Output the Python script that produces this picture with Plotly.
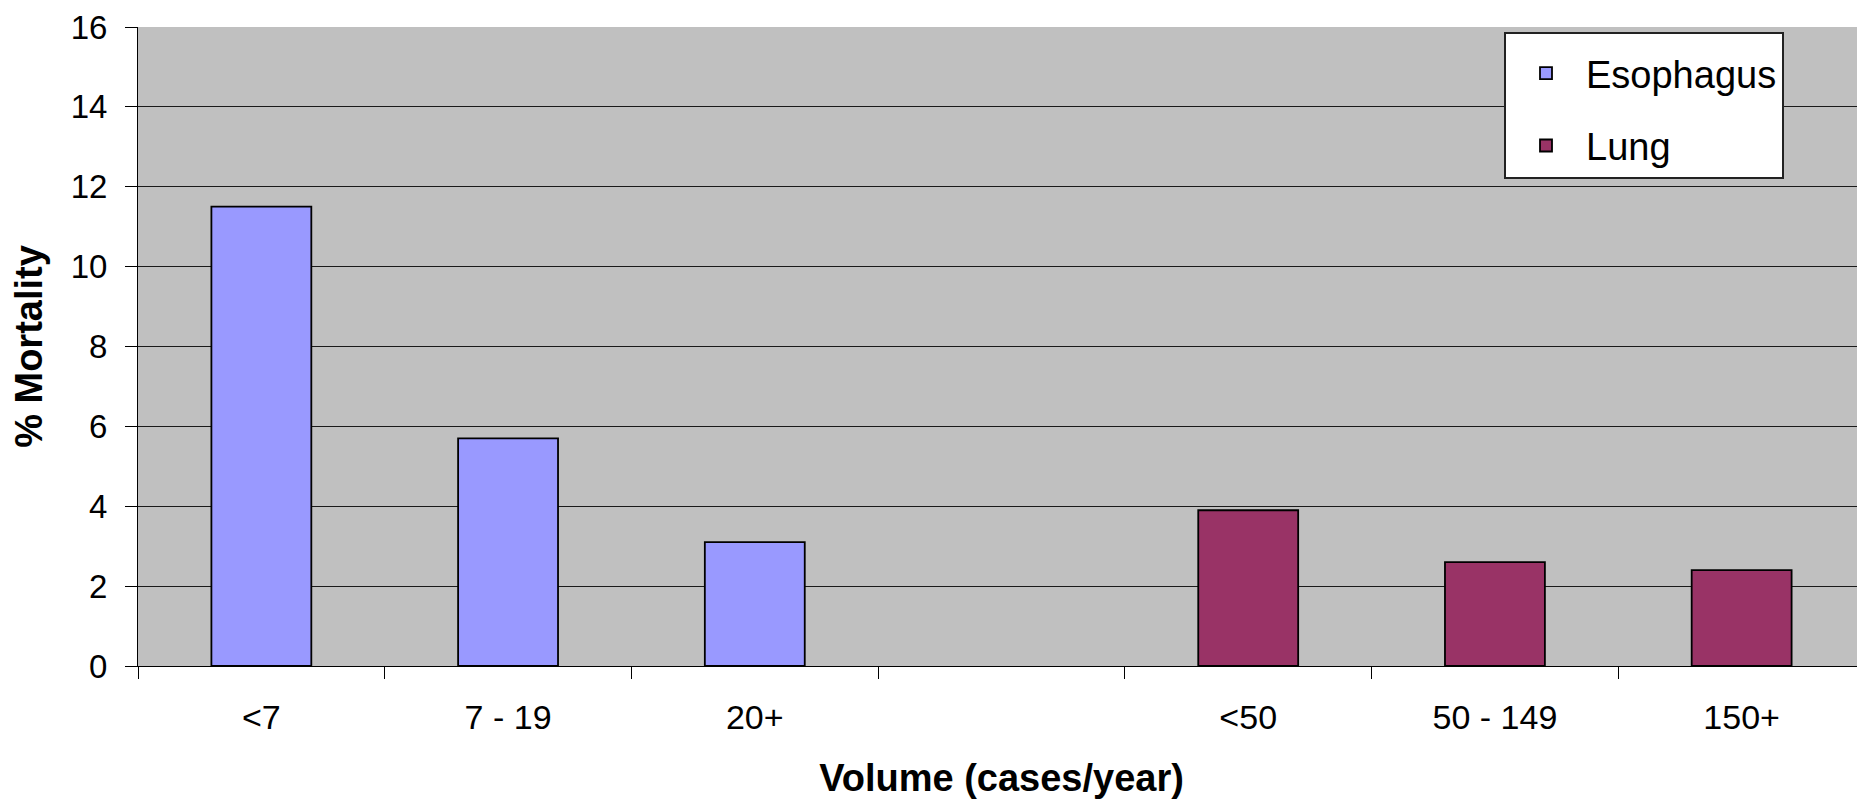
import plotly.graph_objects as go

categories = ["<7", "7 - 19", "20+", " ", "<50", "50 - 149", "150+"]
esophagus_categories = ["<7", "7 - 19", "20+"]
esophagus_values = [11.5, 5.7, 3.1]
lung_categories = ["<50", "50 - 149", "150+"]
lung_values = [3.9, 2.6, 2.4]

FONT = "Arial, Liberation Sans, sans-serif"

fig = go.Figure()
fig.add_trace(go.Bar(
    x=esophagus_categories, y=esophagus_values, name="Esophagus",
    marker=dict(color="#9999FF", line=dict(color="#000000", width=1.8)),
    legendgroup="e",
))
fig.add_trace(go.Bar(
    x=lung_categories, y=lung_values, name="Lung",
    marker=dict(color="#993366", line=dict(color="#000000", width=1.8)),
    legendgroup="l",
))

fig.update_layout(
    width=1857, height=796,
    margin=dict(l=130, r=0, t=19, b=138, autoexpand=False),
    paper_bgcolor="white",
    plot_bgcolor="#C0C0C0",
    barmode="overlay",
    bargap=0.595,
    font=dict(family=FONT, color="black"),
    legend=dict(
        x=(1504 - 138) / 1727, xanchor="left", y=0.992, yanchor="top",
        bgcolor="white", bordercolor="#222222", borderwidth=2,
        font=dict(family=FONT, size=38, color="black"),
        title=dict(text="\u00a0", font=dict(size=6)),
        traceorder="grouped", tracegroupgap=20,
        itemwidth=70,
    ),
    xaxis=dict(
        type="category", categoryorder="array", categoryarray=categories,
        tickmode="array", tickvals=categories, ticktext=categories,
        range=[-0.5, 6.5],
        tickson="boundaries", ticks="outside", ticklen=12, tickcolor="#000000",
        tickfont=dict(family=FONT, size=34, color="black"),
        showline=True, linecolor="#000000", linewidth=1,
        showgrid=False, ticklabelstandoff=21,
        title=dict(text="<b>Volume (cases/year)</b>", font=dict(family=FONT, size=38, color="black"), standoff=29),
    ),
    yaxis=dict(
        range=[0, 16], dtick=2, tick0=0,
        ticks="outside", ticklen=12, tickcolor="#000000",
        tickfont=dict(family=FONT, size=33, color="black"),
        ticklabeloverflow="allow",
        showline=True, linecolor="#000000", linewidth=1,
        showgrid=True, gridcolor="#1a1a1a", gridwidth=1,
        zeroline=False, ticklabelstandoff=11,
        title=dict(text="<b>% Mortality</b>", font=dict(family=FONT, size=38, color="black"), standoff=17),
    ),
)

fig.write_html("out.html")
